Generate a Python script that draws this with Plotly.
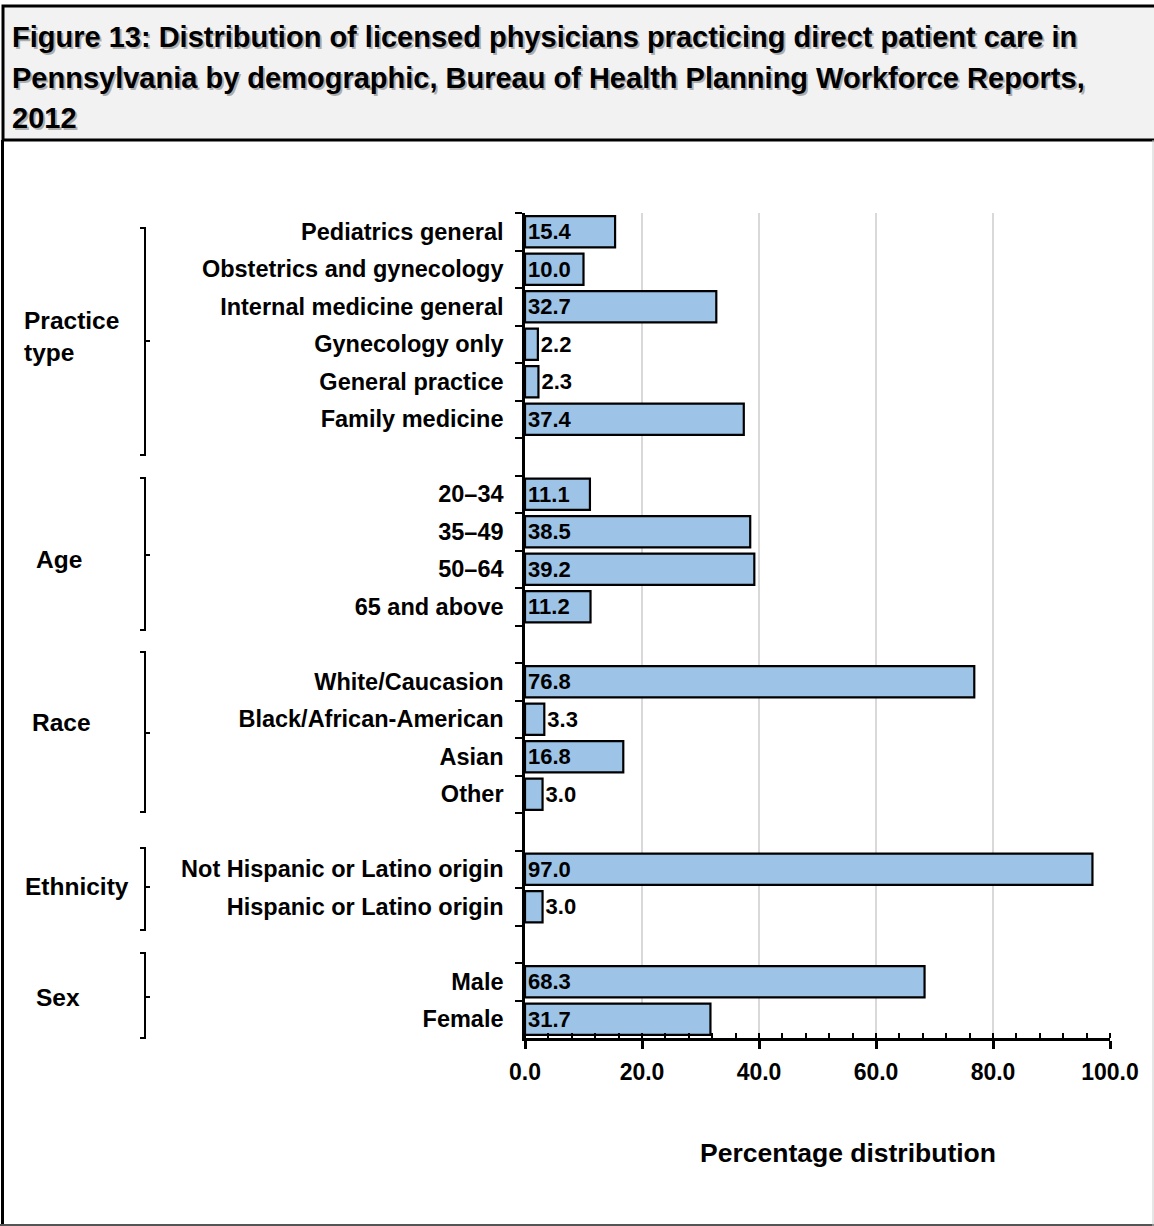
import plotly.graph_objects as go

# ---- data ----
categories = [
    "Pediatrics general", "Obstetrics and gynecology", "Internal medicine general",
    "Gynecology only", "General practice", "Family medicine", " ",
    "20–34", "35–49", "50–64", "65 and above", "  ",
    "White/Caucasion", "Black/African-American", "Asian", "Other", "   ",
    "Not Hispanic or Latino origin", "Hispanic or Latino origin", "    ",
    "Male", "Female",
]
values = [
    15.4, 10.0, 32.7, 2.2, 2.3, 37.4, None,
    11.1, 38.5, 39.2, 11.2, None,
    76.8, 3.3, 16.8, 3.0, None,
    97.0, 3.0, None,
    68.3, 31.7,
]
x_ticks = [0, 20, 40, 60, 80, 100]
title_lines = [
    "Figure 13: Distribution of licensed physicians practicing direct patient care in",
    "Pennsylvania by demographic, Bureau of Health Planning Workforce Reports,",
    "2012",
]
groups = ["Practice<br>type", "Age", "Race", "Ethnicity", "Sex"]

W, H = 1154, 1226
FONT = "Arial, Liberation Sans, sans-serif"


def px(x):
    return x / W


def py(y):
    return 1 - y / H


positions = ["inside" if (v is not None and v > 6) else "outside" for v in values]

fig = go.Figure()
fig.add_trace(go.Bar(
    x=values, y=categories, orientation="h",
    marker=dict(color="#9DC3E6", line=dict(color="black", width=2.2)),
    text=[None if v is None else f"{v:.1f}" for v in values],
    textposition=positions,
    insidetextanchor="start",
    constraintext="none",
    cliponaxis=False,
    textfont=dict(family=FONT, size=22, color="black", weight="bold"),
    hoverinfo="skip",
))

fig.update_layout(
    width=W, height=H, autosize=False,
    margin=dict(l=0, r=0, t=0, b=0, autoexpand=False),
    paper_bgcolor="white", plot_bgcolor="white",
    bargap=0.17,
    showlegend=False,
    font=dict(family=FONT, color="black"),
    xaxis=dict(
        domain=[px(525), px(1110)], automargin=False,
        range=[0, 100], tickvals=x_ticks, tickformat=".1f",
        showgrid=True, gridcolor="#d9d9d9", gridwidth=2,
        zeroline=False,
        showline=True, linecolor="black", linewidth=2.5,
        ticks="outside", ticklen=8, tickwidth=2.5, tickcolor="black",
        minor=dict(dtick=4, ticks="inside", ticklen=5, tickwidth=2, tickcolor="black", showgrid=False),
        tickfont=dict(family=FONT, size=23, color="black", weight="bold"),
        ticklabelstandoff=4,
    ),
    yaxis=dict(
        domain=[py(1038), py(213)], automargin=False,
        type="category", categoryorder="array", categoryarray=categories,
        range=[len(categories) - 0.5, -0.5],
        showgrid=False, zeroline=False,
        showline=True, linecolor="black", linewidth=2.5,
        ticks="outside", ticklen=7, tickwidth=2, tickcolor="black",
        tickson="boundaries",
        tickfont=dict(family=FONT, size=23.5, color="black", weight="bold"),
        ticklabelstandoff=14,
    ),
)

shapes = []
# title box
shapes.append(dict(type="rect", xref="paper", yref="paper",
                   x0=px(3), x1=px(1156), y0=py(140), y1=py(6),
                   fillcolor="#f2f2f2", line=dict(color="black", width=3), layer="below"))
# lower frame
shapes.append(dict(type="line", xref="paper", yref="paper",
                   x0=px(2.5), x1=px(2.5), y0=py(140), y1=py(1226), line=dict(color="black", width=3)))
shapes.append(dict(type="line", xref="paper", yref="paper",
                   x0=px(0), x1=px(1154), y0=py(1225), y1=py(1225), line=dict(color="#555555", width=2)))
shapes.append(dict(type="line", xref="paper", yref="paper",
                   x0=px(1153), x1=px(1153), y0=py(140), y1=py(1226), line=dict(color="#cccccc", width=1)))

# brackets: (top, bottom, mid)
brackets = [(228, 455, 341), (478, 630, 555), (652, 812, 733), (848, 930, 887), (953, 1038, 997)]
bx = 145
for top, bot, mid in brackets:
    path = (f"M {px(bx-5)},{py(top)} L {px(bx)},{py(top)} L {px(bx)},{py(bot)} L {px(bx-5)},{py(bot)} "
            f"M {px(bx)},{py(mid)} L {px(bx+5)},{py(mid)}")
    shapes.append(dict(type="path", xref="paper", yref="paper", path=path,
                       line=dict(color="black", width=2)))
fig.update_layout(shapes=shapes)

annotations = []
# title with slight shadow
title_y = [37, 78, 118]
for line, yy in zip(title_lines, title_y):
    for dx, dy, col in [(1.5, -1.5, "rgba(0,0,0,0.28)"), (0, 0, "black")]:
        annotations.append(dict(
            text=line, xref="paper", yref="paper", x=px(10), y=py(yy),
            xanchor="left", yanchor="middle", showarrow=False, xshift=dx, yshift=dy,
            font=dict(family=FONT, size=29, color=col, weight="bold"),
        ))

group_pos = [(22, 336), (34, 559), (30, 723), (23, 886), (34, 997)]
for g, (gx, gy) in zip(groups, group_pos):
    annotations.append(dict(
        text=g, xref="paper", yref="paper", x=px(gx), y=py(gy),
        xanchor="left", yanchor="middle", align="left", showarrow=False,
        font=dict(family=FONT, size=24.5, color="black", weight="bold"),
    ))

annotations.append(dict(
    text="Percentage distribution", xref="paper", yref="paper", x=px(848), y=py(1153),
    xanchor="center", yanchor="middle", showarrow=False,
    font=dict(family=FONT, size=26.5, color="black", weight="bold"),
))
fig.update_layout(annotations=annotations)

post = ("document.body.style.margin='0';document.body.style.overflow='hidden';")
fig.write_html("out.html", post_script=post, config={"displayModeBar": False})
